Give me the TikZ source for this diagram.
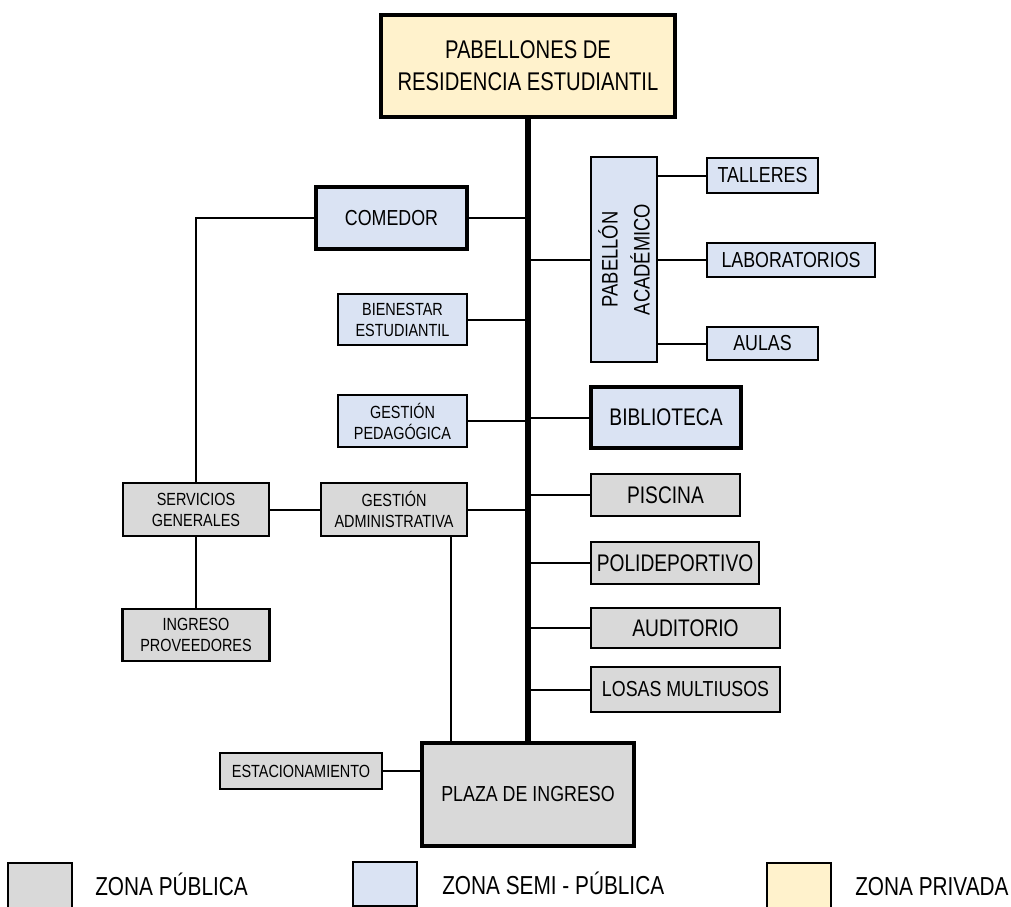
\documentclass[tikz,border=0pt]{standalone}
\usepackage{fontspec}
\setmainfont[FakeStretch=0.82]{Liberation Sans}
\newfontfamily\fbig[FakeStretch=0.79]{Liberation Sans}
\newfontfamily\fcol[FakeStretch=0.80]{Liberation Sans}
\begin{document}
\begin{tikzpicture}[x=0.75pt,y=-0.75pt,
  box/.style={draw=black,line width=1.7pt,inner sep=0pt,align=center},
  pub/.style={box,fill=pubgray},
  semi/.style={box,fill=semiblue},
  priv/.style={box,fill=privyellow},
  heavy/.style={line width=3pt},
  thick2/.style={line width=2.3pt},
  big/.style={font=\fbig\fontsize{19.2}{23.8}\selectfont},
  mid/.style={font=\fontsize{16.3}{19}\selectfont},
  col/.style={font=\fcol\fontsize{18}{21}\selectfont},
  small/.style={font=\fontsize{13.2}{15.8}\selectfont},
  leg/.style={font=\fcol\fontsize{19.5}{23}\selectfont},
  link/.style={draw=black,line width=1.5pt},
  spine/.style={draw=black,line width=3.8pt},
  sz/.style n args={2}{minimum width=#1*0.75pt,minimum height=#2*0.75pt}]
\definecolor{pubgray}{HTML}{D9D9D9}
\definecolor{semiblue}{HTML}{DAE3F3}
\definecolor{privyellow}{HTML}{FFF2CC}
\useasboundingbox (0,0) rectangle (1011,907);

% central axis
\coordinate (sp) at (528,0);

% boxes
\node[priv,heavy,big,sz={294}{102}] (pab) at (528,66) {PABELLONES DE\\RESIDENCIA ESTUDIANTIL};
\node[pub,line width=2.6pt,mid,sz={212}{103}] (plaza) at (528,794.5) {PLAZA DE INGRESO};

\draw[spine] (pab.south) -- (plaza.north);

\node[semi,thick2,mid,sz={151}{62}] (com) at (391.5,218) {COMEDOR};
\node[semi,small,sz={129}{51}] (bien) at (402.5,319.5) {BIENESTAR\\ESTUDIANTIL};
\node[semi,small,sz={129}{52}] (gp) at (402.5,421) {GESTIÓN\\PEDAGÓGICA};
\node[pub,small,sz={146}{53}] (ga) at (394,509.5) {GESTIÓN\\ADMINISTRATIVA};
\node[pub,small,sz={146}{53}] (sg) at (196,509.5) {SERVICIOS\\GENERALES};
\node[pub,small,sz={147}{52}] (ip) at (196,635) {INGRESO\\PROVEEDORES};
\node[pub,small,sz={162}{36}] (est) at (301,771) {ESTACIONAMIENTO};

\node[semi,sz={66}{205}] (pa) at (624,259.5) {};
\node[rotate=90,align=center,inner sep=0pt,font=\fontsize{16.8}{24}\selectfont] (patext) at (pa.center) {PABELLÓN\\ACADÉMICO};
\node[semi,mid,sz={111}{35}] (tal) at (762.5,175.5) {TALLERES};
\node[semi,mid,sz={168}{34}] (lab) at (791,260) {LABORATORIOS};
\node[semi,mid,sz={111}{33}] (aul) at (762.5,343.5) {AULAS};

\node[semi,thick2,col,sz={150}{61}] (bib) at (666,417.5) {BIBLIOTECA};
\node[pub,col,sz={149}{42}] (pis) at (665.5,495) {PISCINA};
\node[pub,col,sz={168}{42}] (pol) at (675,563) {POLIDEPORTIVO};
\node[pub,col,sz={189}{40}] (aud) at (685.5,628) {AUDITORIO};
\node[pub,mid,sz={189}{45}] (los) at (685.5,689.5) {LOSAS MULTIUSOS};

% branches on the left of the axis
\draw[link] (com.east) -- (com.east -| sp);
\draw[link] (bien.east) -- (bien.east -| sp);
\draw[link] (gp.east) -- (gp.east -| sp);
\draw[link] (ga.east) -- (ga.east -| sp);

% branches on the right of the axis
\draw[link] (pa.west -| sp) -- (pa.west);
\draw[link] (bib.west -| sp) -- (bib.west);
\draw[link] (pis.west -| sp) -- (pis.west);
\draw[link] (pol.west -| sp) -- (pol.west);
\draw[link] (aud.west -| sp) -- (aud.west);
\draw[link] (los.west -| sp) -- (los.west);

% academic pavilion
\draw[link] (pa.east |- tal.west) -- (tal.west);
\draw[link] (pa.east |- lab.west) -- (lab.west);
\draw[link] (pa.east |- aul.west) -- (aul.west);

% service side
\draw[link] (com.west) -| (sg.north);
\draw[link] (sg.south) -- (ip.north);
\draw[link] (sg.east) -- (ga.west);
\draw[link] ([xshift=-12.75pt]ga.south east) coordinate (gd) -- (gd |- plaza.north);
\draw[link] (est.east) -- (est.east -| plaza.west);

% legend
\node[pub,line width=1.5pt,sz={64}{50}] (lg1) at (40,888) {};
\node[semi,line width=1.5pt,sz={64}{44}] (lg2) at (385,884) {};
\node[priv,line width=1.5pt,sz={64}{50}] (lg3) at (799,888) {};
\node[leg,anchor=base west,inner sep=0pt] (lt1) at (95,895) {ZONA PÚBLICA};
\node[leg,anchor=base west,inner sep=0pt] (lt2) at (442,894) {ZONA SEMI - PÚBLICA};
\node[leg,anchor=base west,inner sep=0pt] (lt3) at (855,895) {ZONA PRIVADA};
\end{tikzpicture}
\end{document}
